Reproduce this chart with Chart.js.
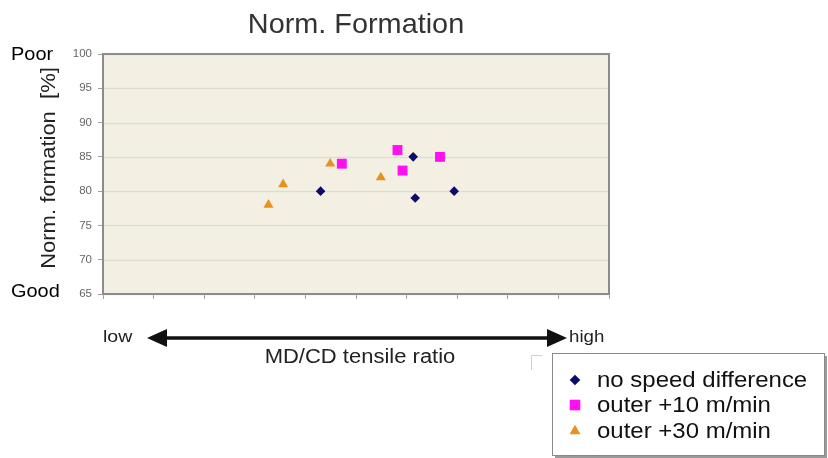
<!DOCTYPE html>
<html>
<head>
<meta charset="utf-8">
<script src="https://cdn.jsdelivr.net/npm/chart.js@4.4.1/dist/chart.umd.min.js"></script>
<style>
  body { margin: 0; background: #fff; }
  #wrap { width: 828px; height: 458px; }
</style>
</head>
<body>
<div id="wrap"><canvas id="chart" width="828" height="458"></canvas></div>
<script>
// Series (x = position on MD/CD tensile ratio axis, y = norm. formation %)
const seriesNames = ['no speed difference', 'outer +10 m/min', 'outer +30 m/min'];
const noSpeedX = [4.30, 6.13, 6.17, 6.94];
const noSpeedY = [80, 85, 79, 80];
const outer10X = [4.72, 5.82, 5.92, 6.66];
const outer10Y = [84, 86, 83, 85];
const outer30X = [3.27, 3.56, 4.49, 5.49];
const outer30Y = [78, 81, 84, 82];

const yTicks = [65, 70, 75, 80, 85, 90, 95, 100];
const xTicks = [0, 1, 2, 3, 4, 5, 6, 7, 8, 9, 10];

const colors = ['#0b0b6e', '#ff10f0', '#e8921c'];
const styles = ['rectRot', 'rect', 'triangle'];
const radii = [4.8, 7, 5.8];

const FONT = '"Liberation Sans", Arial, sans-serif';

const toPoints = (xs, ys) => xs.map((x, i) => ({ x: x, y: ys[i] }));

// text drawn slightly wider, like the source picture
function stretchedText(ctx, text, x, y, sx) {
    ctx.save();
    ctx.translate(x, y);
    ctx.scale(sx, 1);
    ctx.fillText(text, 0, 0);
    ctx.restore();
}

// Extra drawing: plot background, border, titles, arrow, legend box
const decorations = {
    id: 'decorations',
    beforeDatasetsDraw(chart) {
        const { ctx, chartArea: a } = chart;
        ctx.save();
        ctx.fillStyle = '#f3f0e3';
        ctx.fillRect(a.left, a.top, a.right - a.left, a.bottom - a.top);
        const y = chart.scales.y;
        ctx.strokeStyle = '#e0ddcf';
        ctx.lineWidth = 1.5;
        yTicks.forEach(v => {
            const py = Math.round(y.getPixelForValue(v)) + 0.5;
            ctx.beginPath();
            ctx.moveTo(a.left, py);
            ctx.lineTo(a.right, py);
            ctx.stroke();
        });
        ctx.strokeStyle = '#8c8c8c';
        ctx.lineWidth = 2;
        ctx.strokeRect(a.left, a.top, a.right - a.left, a.bottom - a.top);
        ctx.restore();
    },
    afterDraw(chart) {
        const { ctx } = chart;
        ctx.save();

        // title
        ctx.fillStyle = '#333';
        ctx.textAlign = 'center';
        ctx.textBaseline = 'alphabetic';
        ctx.font = '28px ' + FONT;
        stretchedText(ctx, 'Norm. Formation', 356, 33, 1.03);

        // y axis title
        ctx.save();
        ctx.translate(55, 168);
        ctx.rotate(-Math.PI / 2);
        ctx.font = '20px ' + FONT;
        ctx.fillStyle = '#222';
        stretchedText(ctx, 'Norm. formation  [%]', 0, 0, 1.1);
        ctx.restore();

        // Poor / Good
        ctx.fillStyle = '#000';
        ctx.textAlign = 'left';
        ctx.font = '19px ' + FONT;
        stretchedText(ctx, 'Poor', 11, 60, 1.05);
        stretchedText(ctx, 'Good', 11, 297, 1.05);

        // double arrow
        const ay = 338;
        const x0 = 147, x1 = 567;
        ctx.strokeStyle = '#111';
        ctx.fillStyle = '#111';
        ctx.lineWidth = 3.5;
        ctx.beginPath();
        ctx.moveTo(x0 + 15, ay);
        ctx.lineTo(x1 - 15, ay);
        ctx.stroke();
        ctx.beginPath();
        ctx.moveTo(x0, ay);
        ctx.lineTo(x0 + 20, ay - 9);
        ctx.lineTo(x0 + 20, ay + 9);
        ctx.closePath();
        ctx.fill();
        ctx.beginPath();
        ctx.moveTo(x1, ay);
        ctx.lineTo(x1 - 20, ay - 9);
        ctx.lineTo(x1 - 20, ay + 9);
        ctx.closePath();
        ctx.fill();

        ctx.fillStyle = '#222';
        ctx.font = '17px ' + FONT;
        ctx.textBaseline = 'middle';
        stretchedText(ctx, 'low', 103, ay - 1, 1.15);
        stretchedText(ctx, 'high', 569, ay - 1, 1.1);
        ctx.textAlign = 'center';
        ctx.textBaseline = 'alphabetic';
        ctx.font = '20px ' + FONT;
        stretchedText(ctx, 'MD/CD tensile ratio', 360, 363, 1.1);

        // faint corner mark
        ctx.strokeStyle = '#cfcfcf';
        ctx.lineWidth = 1;
        ctx.beginPath();
        ctx.moveTo(531.5, 370);
        ctx.lineTo(531.5, 355.5);
        ctx.lineTo(542, 355.5);
        ctx.stroke();

        // legend box
        const lx = 552, ly = 353, lw = 272, lh = 102;
        ctx.fillStyle = '#9a9a9a';
        ctx.fillRect(lx + 3, ly + 3, lw, lh);
        ctx.fillStyle = '#fff';
        ctx.fillRect(lx, ly, lw, lh);
        ctx.strokeStyle = '#8a8a8a';
        ctx.lineWidth = 1;
        ctx.strokeRect(lx + 0.5, ly + 0.5, lw, lh);

        ctx.textAlign = 'left';
        ctx.textBaseline = 'middle';
        ctx.font = '22px ' + FONT;
        const rows = [380, 405, 431];
        seriesNames.forEach((name, i) => {
            ctx.fillStyle = colors[i];
            ctx.strokeStyle = colors[i];
            Chart.helpers.drawPoint(ctx, {
                pointStyle: styles[i],
                radius: radii[i] + 0.5,
                borderWidth: 0
            }, 575, rows[i]);
            ctx.fillStyle = '#111';
            stretchedText(ctx, name, 597, rows[i] + 1, 1.09);
        });
        ctx.restore();
    }
};

new Chart(document.getElementById('chart'), {
    type: 'scatter',
    data: {
        datasets: [
            { label: seriesNames[0], data: toPoints(noSpeedX, noSpeedY) },
            { label: seriesNames[1], data: toPoints(outer10X, outer10Y) },
            { label: seriesNames[2], data: toPoints(outer30X, outer30Y) }
        ].map((d, i) => Object.assign(d, {
            pointStyle: styles[i],
            pointRadius: radii[i],
            backgroundColor: colors[i],
            borderColor: colors[i],
            borderWidth: 0
        }))
    },
    options: {
        responsive: false,
        animation: false,
        layout: { padding: { top: 54, right: 219, bottom: 158, left: 0 } },
        plugins: {
            legend: { display: false },
            tooltip: { enabled: false },
            title: { display: false }
        },
        scales: {
            x: {
                type: 'linear',
                min: 0,
                max: 10,
                afterBuildTicks: (scale) => { scale.ticks = xTicks.map(v => ({ value: v })); },
                afterFit: (scale) => { scale.height = 6; },
                ticks: { display: true, callback: () => '', padding: 0, font: { size: 1 } },
                grid: { drawOnChartArea: false, drawTicks: true, tickLength: 5, tickColor: '#a0a0a0' },
                border: { display: false }
            },
            y: {
                min: 65,
                max: 100,
                afterBuildTicks: (scale) => { scale.ticks = yTicks.map(v => ({ value: v })); },
                afterFit: (scale) => { scale.width = 103; },
                ticks: {
                    color: '#666',
                    padding: 6,
                    font: { family: FONT, size: 11.5 }
                },
                grid: { drawOnChartArea: false, drawTicks: true, tickLength: 5, tickColor: '#a0a0a0' },
                border: { display: false }
            }
        }
    },
    plugins: [decorations]
});
</script>
</body>
</html>
